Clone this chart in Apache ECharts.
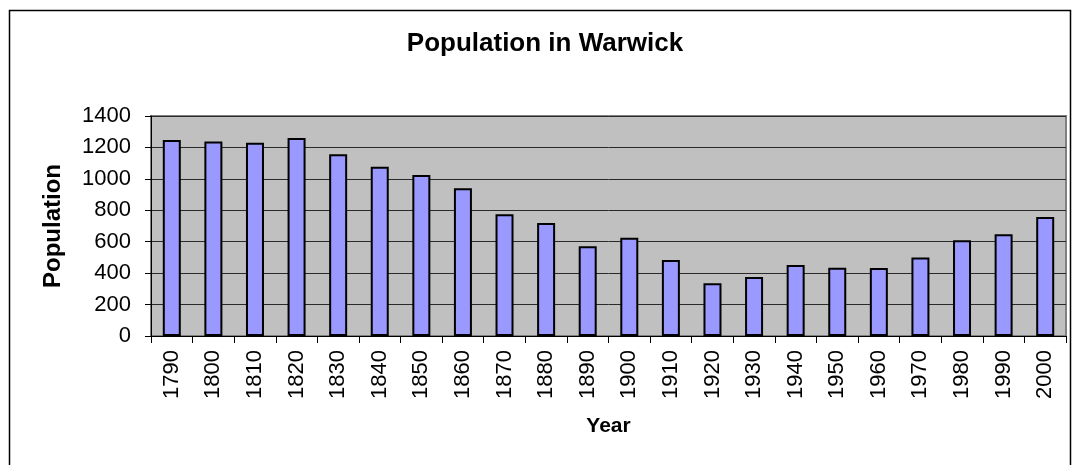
<!DOCTYPE html>
<html>
<head>
<meta charset="utf-8">
<title>Population in Warwick</title>
<script src="https://cdn.jsdelivr.net/npm/echarts@6/dist/echarts.min.js"></script>
<style>
  html, body { margin: 0; padding: 0; background: #fff; }
  #main { width: 1076px; height: 465px; }
</style>
</head>
<body>
<div id="main"></div>
<script>
// census years and population
var years = ['1790', '1800', '1810', '1820', '1830', '1840', '1850', '1860', '1870', '1880', '1890',
  '1900', '1910', '1920', '1930', '1940', '1950', '1960', '1970', '1980', '1990', '2000']
var population = [1248, 1237, 1230, 1260, 1157, 1077, 1024, 940, 774, 719, 571,
  626, 483, 335, 375, 452, 435, 432, 499, 609, 647, 757]
var yTicks = [0, 200, 400, 600, 800, 1000, 1200, 1400]

var font = 'Liberation Sans, Arial, sans-serif'

var chart = echarts.init(document.getElementById('main'))

var option = {
  animation: false,
  backgroundColor: '#fff',
  title: {
    text: 'Population in Warwick',
    left: 540,
    top: 26,
    textAlign: 'center',
    textStyle: { fontFamily: font, fontSize: 26, fontWeight: 'bold', color: '#000' }
  },
  graphic: [{
    type: 'rect',
    silent: true,
    shape: { x: 9.5, y: 10.5, width: 1061, height: 470 },
    style: { fill: 'none', stroke: '#000', lineWidth: 1.5 }
  }],
  grid: {
    left: 151,
    right: 10,
    top: 116,
    bottom: 129,
    show: true,
    backgroundColor: '#C0C0C0',
    borderColor: '#808080',
    borderWidth: 2
  },
  xAxis: {
    type: 'category',
    data: years,
    name: 'Year',
    nameLocation: 'middle',
    nameGap: 80,
    nameTextStyle: { fontFamily: font, fontSize: 21, fontWeight: 'bold', color: '#000' },
    axisLine: { lineStyle: { color: '#000', width: 1 } },
    axisTick: { show: true, length: 7, lineStyle: { color: '#000' } },
    axisLabel: {
      rotate: 90,
      margin: 14,
      fontFamily: font,
      fontSize: 22,
      color: '#000'
    }
  },
  yAxis: {
    type: 'value',
    min: yTicks[0],
    max: yTicks[yTicks.length - 1],
    interval: 200,
    name: 'Population',
    nameLocation: 'middle',
    nameGap: 86,
    nameTextStyle: { fontFamily: font, fontSize: 24, fontWeight: 'bold', color: '#000' },
    axisLine: { show: true, lineStyle: { color: '#000', width: 1 } },
    axisTick: { show: true, length: 6, lineStyle: { color: '#000' } },
    axisLabel: {
      margin: 20,
      fontFamily: font,
      fontSize: 22,
      color: '#000',
      formatter: function (v) { return String(v) }
    },
    splitLine: { lineStyle: { color: '#2a2a2a', width: 1 } }
  },
  series: [{
    type: 'bar',
    data: population,
    barWidth: 18,
    itemStyle: { color: '#9999FF', borderColor: '#000', borderWidth: 2 }
  }]
}

chart.setOption(option)
</script>
</body>
</html>
